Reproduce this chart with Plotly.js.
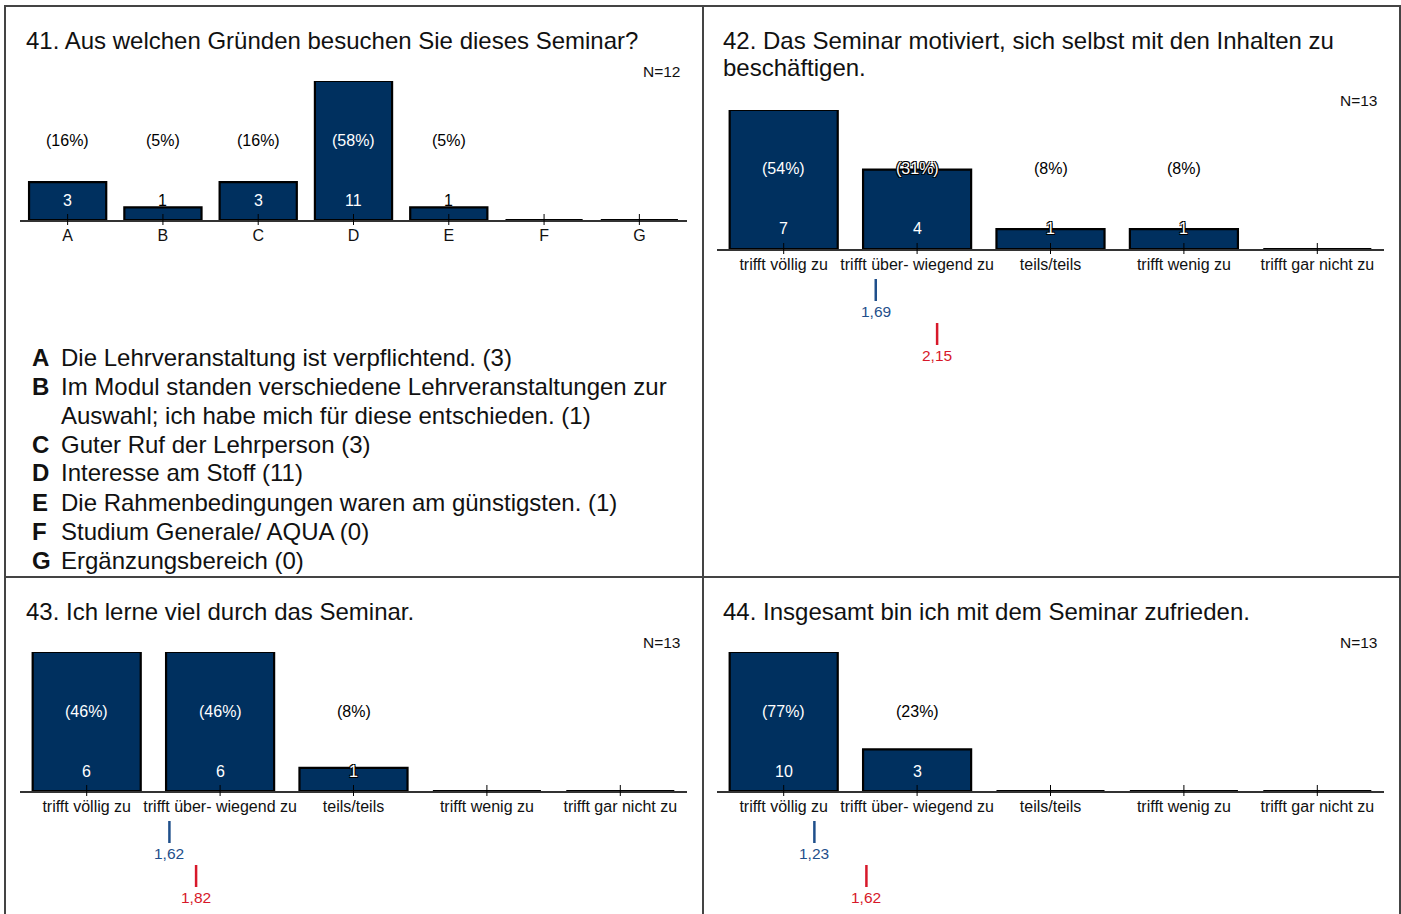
<!DOCTYPE html>
<html>
<head>
<meta charset="utf-8">
<script src="https://cdn.plot.ly/plotly-3.0.1.min.js"></script>
<style>
  html, body { margin: 0; padding: 0; background: #fff; }
  #chart { width: 1401px; height: 914px; }
</style>
</head>
<body>
<div id="chart"></div>
<script>
// ---------------- DATA ----------------
const q41Title = ['41. Aus welchen Gründen besuchen Sie dieses Seminar?'];
const q41Cats = ['A', 'B', 'C', 'D', 'E', 'F', 'G'];
const q41Counts = [3, 1, 3, 11, 1, 0, 0];
const q41Pct = [16, 5, 16, 58, 5, null, null];
const q41N = 12;
const q41Texts = [
  'Die Lehrveranstaltung ist verpflichtend.',
  'Im Modul standen verschiedene Lehrveranstaltungen zur\nAuswahl; ich habe mich für diese entschieden.',
  'Guter Ruf der Lehrperson',
  'Interesse am Stoff',
  'Die Rahmenbedingungen waren am günstigsten.',
  'Studium Generale/ AQUA',
  'Ergänzungsbereich'
];

const scaleCats = ['trifft völlig zu', 'trifft über- wiegend zu', 'teils/teils', 'trifft wenig zu', 'trifft gar nicht zu'];

const q42Title = ['42. Das Seminar motiviert, sich selbst mit den Inhalten zu', 'beschäftigen.'];
const q42Counts = [7, 4, 1, 1, 0];
const q42Pct = [54, 31, 8, 8, null];
const q42N = 13;

const q43Title = ['43. Ich lerne viel durch das Seminar.'];
const q43Counts = [6, 6, 1, 0, 0];
const q43Pct = [46, 46, 8, null, null];
const q43N = 13;

const q44Title = ['44. Insgesamt bin ich mit dem Seminar zufrieden.'];
const q44Counts = [10, 3, 0, 0, 0];
const q44Pct = [77, 23, null, null, null];
const q44N = 13;

// mean markers for q42, q43, q44
const meanBlue = [1.69, 1.62, 1.23];
const meanRed = [2.15, 1.82, 1.62];

// ---------------- STYLE / LAYOUT ----------------
const W = 1401, H = 914;
const FONT = '"Liberation Sans", Arial, sans-serif';
const BAR_COLOR = '#00305f';
const BLUE = '#1f4f8b';
const RED = '#d7182a';
const TXT = '#111';
const BAR_PX = 139;
const BIG = 24, SMALL = 16;
const px2x = p => p / W;
const px2y = p => 1 - p / H;
const OUTLINE = '-1px -1px 0 #000, 1px -1px 0 #000, -1px 1px 0 #000, 1px 1px 0 #000';

const panels = [
  { title: q41Title, cats: q41Cats, counts: q41Counts, pct: q41Pct, N: q41N,
    axisY: 220, xL: 20, xR: 687, titleX: 24, titleY: 40, nX: 683, nY: 71, means: null },
  { title: q42Title, cats: scaleCats, counts: q42Counts, pct: q42Pct, N: q42N,
    axisY: 249, xL: 717, xR: 1384, titleX: 721, titleY: 40, nX: 1380, nY: 100, means: 0 },
  { title: q43Title, cats: scaleCats, counts: q43Counts, pct: q43Pct, N: q43N,
    axisY: 791, xL: 20, xR: 687, titleX: 24, titleY: 611, nX: 683, nY: 642, means: 1 },
  { title: q44Title, cats: scaleCats, counts: q44Counts, pct: q44Pct, N: q44N,
    axisY: 791, xL: 717, xR: 1384, titleX: 721, titleY: 611, nX: 1380, nY: 642, means: 2 }
];

const data = [];
const layout = {
  width: W, height: H,
  margin: { l: 0, r: 0, t: 0, b: 0 },
  paper_bgcolor: '#fff', plot_bgcolor: 'rgba(0,0,0,0)',
  showlegend: false,
  hovermode: false,
  font: { family: FONT, color: TXT },
  bargap: 0,
  annotations: [],
  shapes: []
};

function labelStyle(h, lo, hi) {
  // h: bar height in px; label occupies [lo, hi] px above the axis
  if (h <= lo) return { color: '#000' };
  if (h >= hi) return { color: '#fff' };
  return { color: '#fff', shadow: OUTLINE };
}

panels.forEach((p, i) => {
  const k = i + 1;
  const xa = 'xaxis' + (k === 1 ? '' : k);
  const ya = 'yaxis' + (k === 1 ? '' : k);
  const xr = 'x' + (k === 1 ? '' : k);
  const yr = 'y' + (k === 1 ? '' : k);
  const n = p.cats.length;
  const xs = p.cats.map((_, j) => j + 1);
  const maxC = Math.max(...p.counts);

  data.push({
    type: 'bar', x: xs, y: p.counts, xaxis: xr, yaxis: yr,
    width: 0.81,
    marker: { color: BAR_COLOR, line: { color: '#000', width: 2.2 } },
    cliponaxis: false
  });

  layout[xa] = {
    domain: [px2x(p.xL), px2x(p.xR)],
    range: [0.5, n + 0.5],
    anchor: yr,
    tickvals: xs, ticktext: p.cats,
    ticks: '',
    showline: true, linecolor: '#333', linewidth: 2,
    showgrid: false, zeroline: false, fixedrange: true,
    tickfont: { size: SMALL, color: TXT, family: FONT },
    ticklabelstandoff: 0
  };
  layout[ya] = {
    domain: [px2y(p.axisY), px2y(p.axisY - BAR_PX)],
    range: [0, maxC],
    anchor: xr,
    visible: false, fixedrange: true
  };

  // cross-shaped category ticks
  xs.forEach(x => {
    layout.shapes.push({
      type: 'line', xref: xr, yref: 'paper', x0: x, x1: x,
      y0: px2y(p.axisY - 6), y1: px2y(p.axisY + 5),
      line: { color: '#000', width: 1 }, layer: 'above'
    });
  });

  // title lines
  p.title.forEach((t, li) => {
    layout.annotations.push({
      xref: 'paper', yref: 'paper', x: px2x(p.titleX), y: px2y(p.titleY + li * 28),
      xanchor: 'left', yanchor: 'middle', align: 'left', showarrow: false,
      text: t, font: { size: BIG, color: TXT, family: FONT }
    });
  });
  // N
  layout.annotations.push({
    xref: 'paper', yref: 'paper', x: px2x(p.nX), y: px2y(p.nY),
    xanchor: 'right', yanchor: 'middle', showarrow: false,
    text: 'N=' + p.N, font: { size: 15.5, color: TXT, family: FONT }
  });

  // count + percent labels
  p.counts.forEach((c, j) => {
    if (!c) return;
    const h = c / maxC * BAR_PX;
    const cs = labelStyle(h, 13, 28);
    layout.annotations.push({
      xref: xr, yref: yr, x: j + 1, y: 0, yshift: 20,
      xanchor: 'center', yanchor: 'middle', showarrow: false,
      text: String(c), font: Object.assign({ size: SMALL, family: FONT }, cs)
    });
    if (p.pct[j] != null) {
      const ps = labelStyle(h, 72, 89);
      layout.annotations.push({
        xref: xr, yref: yr, x: j + 1, y: 0, yshift: 80,
        xanchor: 'center', yanchor: 'middle', showarrow: false,
        text: '(' + p.pct[j] + '%)', font: Object.assign({ size: SMALL, family: FONT }, ps)
      });
    }
  });

  // mean markers
  if (p.means !== null) {
    const mk = [
      { v: meanBlue[p.means], col: BLUE, off: 30, lab: 62 },
      { v: meanRed[p.means], col: RED, off: 74, lab: 106 }
    ];
    mk.forEach(m => {
      layout.shapes.push({
        type: 'line', xref: xr, yref: 'paper',
        x0: m.v, x1: m.v, y0: px2y(p.axisY + m.off), y1: px2y(p.axisY + m.off + 22),
        line: { color: m.col, width: 2.5 }
      });
      layout.annotations.push({
        xref: xr, yref: 'paper', x: m.v, y: px2y(p.axisY + m.lab),
        xanchor: 'center', yanchor: 'middle', showarrow: false,
        text: m.v.toFixed(2).replace('.', ','), font: { size: 15.5, color: m.col, family: FONT }
      });
    });
  }
});

// legend of question 41
let row = 0;
q41Cats.forEach((letter, j) => {
  const lines = q41Texts[j].split('\n');
  lines[lines.length - 1] += ' (' + q41Counts[j] + ')';
  layout.annotations.push({
    xref: 'paper', yref: 'paper', x: px2x(30), y: px2y(357 + row * 29),
    xanchor: 'left', yanchor: 'middle', showarrow: false,
    text: '<b>' + letter + '</b>', font: { size: BIG, color: TXT, family: FONT }
  });
  lines.forEach(line => {
    layout.annotations.push({
      xref: 'paper', yref: 'paper', x: px2x(59), y: px2y(357 + row * 29),
      xanchor: 'left', yanchor: 'middle', showarrow: false,
      text: line, font: { size: BIG, color: TXT, family: FONT }
    });
    row++;
  });
});

// panel borders
const BC = '#444';
layout.shapes.push(
  { type: 'rect', xref: 'paper', yref: 'paper', x0: px2x(5), x1: px2x(1400), y0: px2y(916), y1: px2y(6), line: { color: BC, width: 2 } },
  { type: 'line', xref: 'paper', yref: 'paper', x0: px2x(703), x1: px2x(703), y0: px2y(6), y1: px2y(916), line: { color: BC, width: 2 } },
  { type: 'line', xref: 'paper', yref: 'paper', x0: px2x(5), x1: px2x(1400), y0: px2y(577), y1: px2y(577), line: { color: BC, width: 2 } }
);

Plotly.newPlot('chart', data, layout, { displayModeBar: false, staticPlot: true });
</script>
</body>
</html>
